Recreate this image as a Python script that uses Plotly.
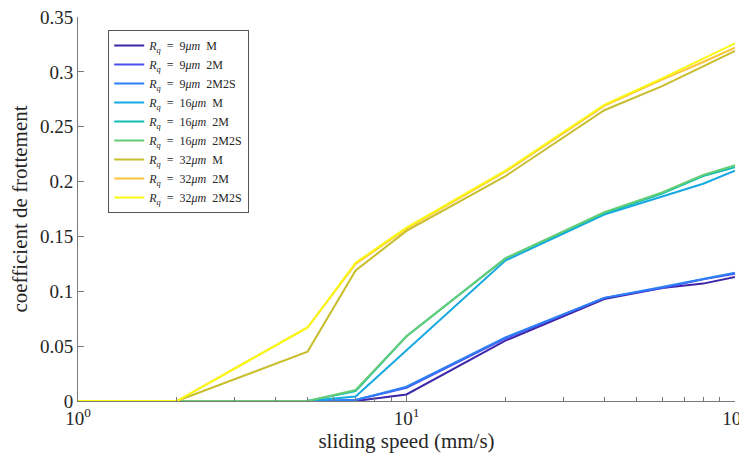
import plotly.graph_objects as go

speed = [1, 2, 5, 7, 10, 20, 40, 60, 80, 100]

rq9_M     = [0, 0, 0, 0.000, 0.006, 0.055, 0.093, 0.103, 0.107, 0.113]
rq9_2M    = [0, 0, 0, 0.001, 0.012, 0.057, 0.094, 0.103, 0.111, 0.116]
rq9_2M2S  = [0, 0, 0, 0.001, 0.013, 0.058, 0.094, 0.104, 0.111, 0.117]
rq16_M    = [0, 0, 0, 0.004, 0.046, 0.128, 0.170, 0.186, 0.198, 0.210]
rq16_2M   = [0, 0, 0, 0.009, 0.059, 0.130, 0.171, 0.189, 0.205, 0.213]
rq16_2M2S = [0, 0, 0, 0.010, 0.059, 0.130, 0.172, 0.190, 0.206, 0.215]
rq32_M    = [0, 0, 0.045, 0.119, 0.155, 0.205, 0.265, 0.287, 0.305, 0.319]
rq32_2M   = [0, 0, 0.067, 0.125, 0.157, 0.209, 0.269, 0.293, 0.309, 0.322]
rq32_2M2S = [0, 0, 0.067, 0.126, 0.158, 0.210, 0.270, 0.294, 0.312, 0.326]

sp = "\u2002"
names = [
    f"<i>R</i><sub><i>q</i></sub>{sp}={sp}9<i>μm</i>{sp}M",
    f"<i>R</i><sub><i>q</i></sub>{sp}={sp}9<i>μm</i>{sp}2M",
    f"<i>R</i><sub><i>q</i></sub>{sp}={sp}9<i>μm</i>{sp}2M2S",
    f"<i>R</i><sub><i>q</i></sub>{sp}={sp}16<i>μm</i>{sp}M",
    f"<i>R</i><sub><i>q</i></sub>{sp}={sp}16<i>μm</i>{sp}2M",
    f"<i>R</i><sub><i>q</i></sub>{sp}={sp}16<i>μm</i>{sp}2M2S",
    f"<i>R</i><sub><i>q</i></sub>{sp}={sp}32<i>μm</i>{sp}M",
    f"<i>R</i><sub><i>q</i></sub>{sp}={sp}32<i>μm</i>{sp}2M",
    f"<i>R</i><sub><i>q</i></sub>{sp}={sp}32<i>μm</i>{sp}2M2S",
]
series = [rq9_M, rq9_2M, rq9_2M2S, rq16_M, rq16_2M, rq16_2M2S, rq32_M, rq32_2M, rq32_2M2S]
colors = ["rgb(62,38,168)", "rgb(72,78,240)", "rgb(45,128,245)", "rgb(22,168,225)",
          "rgb(14,188,182)", "rgb(100,205,118)", "rgb(200,190,45)", "rgb(254,195,55)",
          "rgb(249,250,20)"]

xticks = [1, 10, 100]
xticklabels = ["10<sup>0</sup>", "10<sup>1</sup>", "10<sup>2</sup>"]
minor_x = [2, 3, 4, 5, 6, 7, 8, 9, 20, 30, 40, 50, 60, 70, 80, 90]
yticks = [0, 0.05, 0.1, 0.15, 0.2, 0.25, 0.3, 0.35]
yticklabels = ["0", "0.05", "0.1", "0.15", "0.2", "0.25", "0.3", "0.35"]

fig = go.Figure()
for n, s, c in zip(names, series, colors):
    fig.add_trace(go.Scatter(x=speed, y=s, mode="lines", name=n,
                             line=dict(color=c, width=2)))

font = "Liberation Serif, DejaVu Serif, serif"
axis_col = "#7a7a7a"
txt = "#262626"
# page body has an 8px default margin: figure is 739x449 placed at (8, 8)
fig.update_layout(
    width=739, height=449,
    margin=dict(l=70, r=12, t=9, b=56),
    paper_bgcolor="white", plot_bgcolor="white",
    font=dict(family=font, size=15, color=txt),
    showlegend=True,
    legend=dict(x=0.046, y=0.966, xanchor="left", yanchor="top",
                bgcolor="white", bordercolor="#555555", borderwidth=1,
                font=dict(family=font, size=12, color=txt),
                tracegroupgap=0, itemwidth=30),
    xaxis=dict(type="log", range=[0, 2], tickvals=xticks, ticktext=xticklabels,
               ticks="inside", ticklen=6, tickcolor=axis_col, automargin=False,
               ticklabeloverflow="allow",
               showline=True, linecolor=axis_col, linewidth=1,
               showgrid=False, zeroline=False,
               tickfont=dict(family=font, size=19, color=txt),
               minor=dict(tickvals=minor_x, ticks="inside", ticklen=4,
                          tickcolor=axis_col, showgrid=False),
               title=dict(text="sliding speed (mm/s)", standoff=0,
                          font=dict(family=font, size=21, color=txt))),
    yaxis=dict(range=[0, 0.35], tickvals=yticks, ticktext=yticklabels,
               ticks="inside", ticklen=6, tickcolor=axis_col, automargin=False,
               ticklabeloverflow="allow",
               showline=True, linecolor=axis_col, linewidth=1,
               showgrid=False, zeroline=False,
               tickfont=dict(family=font, size=19, color=txt),
               title=dict(text="coefficient de frottement", standoff=8,
                          font=dict(family=font, size=21, color=txt))),
)

fig.write_html("out.html")
